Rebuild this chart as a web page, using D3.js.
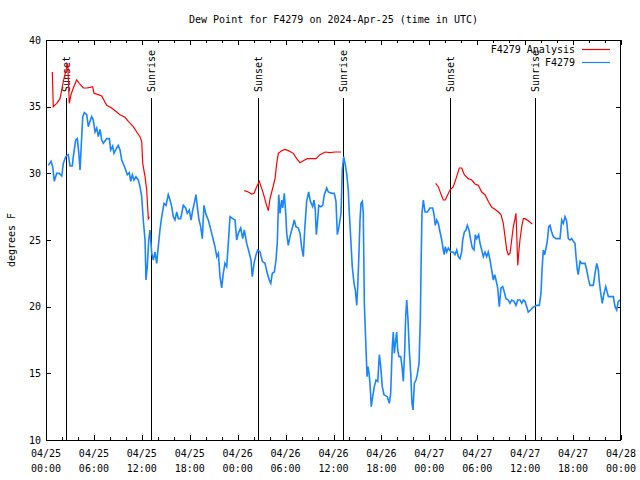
<!DOCTYPE html>
<html>
<head>
<meta charset="utf-8">
<script src="https://cdn.jsdelivr.net/npm/d3@7"></script>
<style>
  html, body { margin: 0; padding: 0; background: #fff; }
  svg { display: block; }
  text { font-family: "DejaVu Sans Mono", "Liberation Mono", monospace; font-size: 10px; fill: #000; }
</style>
</head>
<body>
<svg id="chart" width="640" height="480"></svg>
<script>
// ---------------- DATA ----------------
const chartTitle = "Dew Point for F4279 on 2024-Apr-25 (time in UTC)";
const yAxisTitle = "degrees F";
const seriesNames = ["F4279 Analysis", "F4279"];
const startTime = "2024-04-25T00:00:00Z";
const rangeHours = [0, 72];
const yDomain = [10, 40];
const yTickValues = [10, 15, 20, 25, 30, 35, 40];

// Station observations: [hours since 04/25 00:00 UTC, dew point °F]
const obsDew = [
  [0.29,30.6],[0.63,30.9],[0.84,30.5],[1.04,29.4],[1.34,30.0],[1.67,30.0],[1.97,29.8],[2.17,30.75],[2.47,31.25],[2.79,31.4],
  [3.01,30.55],[3.29,30.55],[3.42,31.25],[3.72,32.5],[3.92,32.6],[4.13,31.4],[4.26,30.25],[4.47,32.75],[4.60,34.25],[4.80,34.55],
  [5.10,34.4],[5.30,33.5],[5.51,33.9],[5.72,34.25],[5.92,34.0],[6.14,33.1],[6.35,33.4],[6.55,32.75],[6.76,33.3],[6.97,32.5],
  [7.18,32.25],[7.60,32.6],[7.93,32.6],[8.10,31.75],[8.35,32.05],[8.51,31.5],[8.85,31.9],[9.05,32.1],[9.27,31.75],[9.48,31.0],
  [9.89,30.4],[10.18,29.9],[10.43,30.05],[10.61,29.4],[10.81,29.9],[11.02,29.5],[11.27,29.75],[11.56,29.5],[11.77,29.0],[11.98,28.25],
  [12.18,26.5],[12.40,25.0],[12.52,22.0],[12.68,23.0],[12.86,25.0],[13.02,25.75],[13.24,24.0],[13.44,23.5],[13.65,24.1],[13.86,23.25],
  [14.06,24.5],[14.27,25.75],[14.49,26.75],[14.78,27.75],[15.03,27.6],[15.31,28.4],[15.53,28.0],[15.74,27.5],[15.94,26.75],[16.15,26.5],
  [16.37,27.1],[16.57,26.6],[16.87,26.6],[17.19,27.6],[17.49,27.4],[17.69,27.0],[17.94,27.25],[18.16,26.5],[18.37,27.25],[18.57,27.75],
  [18.78,28.4],[18.95,27.5],[19.16,26.5],[19.37,26.0],[19.57,25.1],[19.78,27.6],[20.04,26.9],[20.32,26.5],[20.54,26.0],[20.75,25.5],
  [20.95,25.0],[21.16,24.5],[21.38,23.75],[21.58,24.0],[21.79,22.25],[22.00,21.4],[22.20,22.5],[22.41,23.25],[22.63,23.0],[22.83,24.75],
  [23.04,26.75],[23.38,26.6],[23.67,26.5],[23.88,25.0],[24.08,25.5],[24.38,25.9],[24.63,25.1],[24.83,25.75],[25.13,24.75],[25.42,24.1],
  [25.67,23.5],[25.83,22.25],[26.05,23.25],[26.30,23.9],[26.51,24.25],[26.80,24.1],[27.09,23.4],[27.42,23.25],[27.71,22.5],[27.96,22.0],
  [28.14,21.75],[28.34,22.5],[28.59,22.6],[28.80,23.5],[28.96,24.75],[29.14,28.4],[29.30,27.0],[29.51,28.0],[29.64,27.4],[29.84,28.5],
  [30.02,27.0],[30.14,25.5],[30.34,24.6],[30.55,25.25],[30.84,25.9],[31.09,26.5],[31.30,26.0],[31.59,25.9],[31.81,25.5],[32.02,24.4],
  [32.22,23.75],[32.39,25.75],[32.64,27.9],[32.89,28.6],[33.10,27.9],[33.40,27.5],[33.56,28.0],[33.72,27.25],[33.85,25.4],[34.02,26.5],
  [34.15,27.6],[34.40,27.5],[34.65,27.6],[34.85,28.4],[35.15,28.9],[35.35,28.6],[35.77,28.5],[36.10,28.5],[36.31,27.9],[36.48,25.4],
  [36.69,26.0],[36.81,26.5],[36.94,27.0],[37.10,30.25],[37.28,31.25],[37.44,30.75],[37.65,30.0],[37.85,28.75],[37.98,27.0],[38.19,24.75],
  [38.35,23.0],[38.57,21.75],[38.73,21.25],[38.91,20.1],[39.03,21.5],[39.16,23.5],[39.32,26.5],[39.44,27.75],[39.61,27.9],[39.73,27.0],
  [39.86,20.25],[40.03,17.5],[40.20,14.75],[40.32,15.5],[40.45,15.0],[40.57,14.25],[40.73,12.5],[40.91,13.25],[41.11,14.0],[41.32,14.5],
  [41.54,14.4],[41.74,16.4],[41.91,15.5],[42.11,14.0],[42.32,13.4],[42.74,13.25],[42.99,12.75],[43.16,13.5],[43.36,17.0],[43.49,18.1],
  [43.61,16.5],[43.79,17.5],[43.91,18.1],[44.04,16.75],[44.20,16.25],[44.42,16.25],[44.58,15.5],[44.74,14.4],[44.92,16.75],[45.04,19.25],
  [45.17,20.5],[45.33,19.0],[45.49,16.75],[45.67,15.0],[45.83,12.75],[45.96,12.25],[46.12,14.25],[46.33,14.5],[46.49,14.9],[46.71,15.75],
  [46.87,19.0],[46.99,24.0],[47.08,27.0],[47.25,28.0],[47.46,27.1],[47.75,27.1],[48.08,27.4],[48.42,27.4],[48.59,26.9],[48.75,26.1],
  [48.92,26.5],[49.12,26.25],[49.34,25.6],[49.55,25.0],[49.75,24.25],[49.87,23.9],[50.00,24.5],[50.18,24.1],[50.38,24.4],[50.68,24.1],
  [51.00,24.1],[51.21,23.9],[51.43,24.25],[51.63,23.75],[51.84,23.6],[52.05,24.1],[52.18,25.0],[52.38,25.6],[52.59,25.75],[52.75,26.1],
  [52.97,25.75],[53.18,25.0],[53.38,24.4],[53.59,24.25],[53.76,25.4],[53.93,25.1],[54.18,25.4],[54.35,24.75],[54.56,24.25],[54.76,23.75],
  [54.97,24.1],[55.18,23.75],[55.38,24.1],[55.60,23.5],[55.81,22.75],[56.01,22.0],[56.19,22.4],[56.35,22.0],[56.56,21.4],[56.76,20.0],
  [56.97,21.4],[57.19,21.5],[57.39,21.1],[57.60,20.6],[57.89,20.5],[58.10,20.25],[58.31,20.5],[58.60,20.4],[58.85,20.1],[59.07,20.5],
  [59.35,20.5],[59.57,20.25],[59.77,20.5],[59.98,20.4],[60.19,20.0],[60.39,19.6],[60.69,19.75],[60.89,19.9],[61.11,20.0],[61.45,20.1],
  [61.77,20.1],[61.98,21.0],[62.11,22.75],[62.27,24.25],[62.45,23.9],[62.61,24.4],[62.77,24.9],[62.95,26.0],[63.11,26.1],[63.32,25.6],
  [63.52,25.25],[63.86,25.1],[64.14,25.1],[64.36,25.1],[64.58,26.5],[64.78,26.25],[64.99,26.75],[65.20,26.4],[65.40,25.1],[65.61,25.0],
  [65.83,25.1],[66.03,24.9],[66.24,24.75],[66.37,23.75],[66.53,22.75],[66.65,22.4],[66.87,23.4],[67.08,23.25],[67.49,23.25],[67.71,22.75],
  [67.91,22.1],[68.12,21.6],[68.53,21.6],[68.75,22.5],[68.96,23.25],[69.16,22.75],[69.28,21.9],[69.46,21.0],[69.66,20.25],[69.87,21.0],
  [70.09,21.5],[70.42,20.75],[71.04,20.75],[71.25,20.0],[71.46,19.75],[71.66,20.4],[71.88,20.5]
];

// Analysis: [hours, dew point °F]; null value = gap between analysis runs
const analysisDew = [
  [0.79,37.6],[0.91,35.0],[1.34,35.25],[1.75,35.6],[1.97,36.25],[2.17,36.9],[2.38,37.4],[2.72,38.25],[2.92,35.25],[3.13,35.9],
  [3.42,36.4],[3.84,37.0],[4.17,36.75],[4.67,36.4],[5.10,36.4],[5.51,36.45],[5.85,36.5],[6.01,36.0],[6.55,35.9],[6.97,35.8],
  [7.60,35.1],[8.23,34.9],[8.85,34.6],[9.27,34.4],[9.89,34.2],[10.31,33.9],[10.93,33.5],[11.36,33.1],[11.77,32.75],[11.98,32.4],
  [12.11,30.75],[12.40,29.75],[12.61,28.75],[12.68,28.0],[12.81,26.6],[12.94,26.75],
  [18.0,null],
  [24.83,28.7],[25.33,28.6],[25.76,28.45],[26.05,28.5],[26.38,29.0],[26.71,29.4],[27.21,28.5],[27.55,27.75],[27.84,27.2],[28.05,28.1],
  [28.39,28.9],[28.68,29.6],[28.89,30.75],[29.09,31.5],[29.51,31.7],[29.93,31.8],[30.34,31.7],[30.97,31.5],[31.39,31.1],[31.81,30.8],
  [32.22,30.95],[32.72,31.1],[33.27,31.1],[33.81,31.1],[34.31,31.4],[34.94,31.6],[35.56,31.55],[36.19,31.6],[36.94,31.6],
  [42.0,null],
  [48.80,29.25],[49.12,29.0],[49.42,28.5],[49.75,28.0],[50.00,28.0],[50.30,28.4],[50.59,28.75],[51.00,29.0],[51.34,29.6],[51.75,30.4],
  [52.05,30.4],[52.38,29.9],[52.88,29.6],[53.31,29.5],[53.72,29.2],[54.13,29.1],[54.56,28.6],[54.97,28.4],[55.38,27.9],[55.81,27.45],
  [56.22,27.3],[56.64,27.1],[56.97,26.9],[57.26,26.25],[57.48,25.25],[57.69,24.25],[57.89,23.9],[58.10,24.0],[58.31,25.0],[58.52,26.0],
  [58.73,26.6],[58.85,27.0],[58.94,25.5],[59.07,23.1],[59.19,24.0],[59.35,25.0],[59.57,26.0],[59.77,26.6],[59.98,26.6],[60.39,26.45],
  [60.89,26.2]
];

// Sun events (UTC)
const sunEventTimes = ["2024-04-25T02:30:00Z","2024-04-25T13:09:00Z","2024-04-26T02:33:00Z","2024-04-26T13:13:00Z","2024-04-27T02:37:00Z","2024-04-27T13:11:00Z"];
const sunEventLabels = ["Sunset","Sunrise","Sunset","Sunrise","Sunset","Sunrise"];
const sunLineTop = 35.65;   // value where marker lines begin
const sunLabelStart = 36.1; // value where rotated labels start

const colors = { analysis: "#ff0000", obs: "#1a85ff" };

// ---------------- CHART ----------------
const svg = d3.select("#chart");
const margin = { left: 46, right: 19, top: 40, bottom: 40 };
const W = 640, H = 480;
const x0 = margin.left, x1 = W - margin.right, y0 = margin.top, y1 = H - margin.bottom;

const t0 = new Date(startTime);
const hToDate = h => new Date(t0.getTime() + h * 3600e3);

const x = d3.scaleUtc().domain(rangeHours.map(hToDate)).range([x0, x1]);
const y = d3.scaleLinear().domain(yDomain).range([y1, y0]);

// Title
svg.append("text").attr("x", (x0 + x1) / 2).attr("y", 23)
  .attr("text-anchor", "middle").text(chartTitle);

// Y axis title
svg.append("text").attr("transform", `translate(15,${(y0 + y1) / 2}) rotate(-90)`)
  .attr("text-anchor", "middle").text(yAxisTitle);

// Axes (ticks inside, mirrored)
const minorTicks = d3.utcHour.every(2).range(x.domain()[0], new Date(x.domain()[1].getTime() + 1));
const majorTicks = d3.utcHour.every(6).range(x.domain()[0], new Date(x.domain()[1].getTime() + 1));
const fmtDate = d3.utcFormat("%m/%d"), fmtTime = d3.utcFormat("%H:%M");

const axG = svg.append("g").attr("shape-rendering", "crispEdges").attr("stroke", "#000").attr("stroke-width", 1);

const xBottomMinor = d3.axisBottom(x).tickValues(minorTicks).tickSize(-3).tickFormat("");
const xBottomMajor = d3.axisBottom(x).tickValues(majorTicks).tickSize(-5).tickFormat("");
const xTopMinor = d3.axisTop(x).tickValues(minorTicks).tickSize(-3).tickFormat("");
const xTopMajor = d3.axisTop(x).tickValues(majorTicks).tickSize(-5).tickFormat("");
const yLeft = d3.axisLeft(y).tickValues(yTickValues).tickSize(-5).tickFormat("");
const yRight = d3.axisRight(y).tickValues(yTickValues).tickSize(-5).tickFormat("");

[
  [xBottomMinor, `translate(0,${y1})`], [xBottomMajor, `translate(0,${y1})`],
  [xTopMinor, `translate(0,${y0})`], [xTopMajor, `translate(0,${y0})`],
  [yLeft, `translate(${x0},0)`], [yRight, `translate(${x1},0)`]
].forEach(([ax, tr]) => {
  const g = svg.append("g").attr("transform", tr).attr("shape-rendering", "crispEdges").call(ax);
  g.select(".domain").remove();
  g.selectAll("line").attr("stroke", "#000");
});

// X tick labels (two lines)
const xLab = svg.append("g");
majorTicks.forEach(t => {
  const tx = xLab.append("text").attr("x", x(t)).attr("text-anchor", "middle");
  tx.append("tspan").attr("x", x(t)).attr("y", 457).text(fmtDate(t));
  tx.append("tspan").attr("x", x(t)).attr("y", 472).text(fmtTime(t));
});

// Y tick labels
svg.append("g").selectAll("text").data(yTickValues).join("text")
  .attr("x", x0 - 5).attr("y", d => y(d)).attr("dy", "0.35em")
  .attr("text-anchor", "end").text(d => d);

// Clip for data
svg.append("clipPath").attr("id", "plotclip").append("rect")
  .attr("x", x0).attr("y", y0).attr("width", x1 - x0).attr("height", y1 - y0);

// Sun events
const sunG = svg.append("g");
sunEventTimes.forEach((s, i) => {
  const tx = x(new Date(s));
  sunG.append("line").attr("x1", Math.round(tx) + 0.5).attr("x2", Math.round(tx) + 0.5)
    .attr("y1", y(sunLineTop)).attr("y2", y1).attr("stroke", "#000").attr("stroke-width", 1)
    .attr("shape-rendering", "crispEdges");
  sunG.append("text")
    .attr("transform", `translate(${tx + 4},${y(sunLabelStart)}) rotate(-90)`)
    .attr("text-anchor", "start").text(sunEventLabels[i]);
});

// Lines
const lineGen = d3.line()
  .defined(d => d[1] !== null)
  .x(d => x(hToDate(d[0])))
  .y(d => y(d[1]));

const dataG = svg.append("g").attr("clip-path", "url(#plotclip)");
dataG.append("path").datum(analysisDew).attr("d", lineGen)
  .attr("fill", "none").attr("stroke", colors.analysis).attr("stroke-width", 1.2);
dataG.append("path").datum(obsDew).attr("d", lineGen)
  .attr("fill", "none").attr("stroke", colors.obs).attr("stroke-width", 1.6);

// Border
svg.append("rect").attr("x", x0 + 0.5).attr("y", y0 + 0.5).attr("width", x1 - x0 - 1).attr("height", y1 - y0)
  .attr("fill", "none").attr("stroke", "#000").attr("stroke-width", 1).attr("shape-rendering", "crispEdges");

// Legend
const legY = [49, 62];
const legColors = [colors.analysis, colors.obs];
seriesNames.forEach((n, i) => {
  svg.append("text").attr("x", 575).attr("y", legY[i]).attr("dy", "0.35em")
    .attr("text-anchor", "end").text(n);
  svg.append("line").attr("x1", 582).attr("x2", 610).attr("y1", legY[i] + 0.5).attr("y2", legY[i] + 0.5)
    .attr("stroke", legColors[i]).attr("stroke-width", 1.2);
});
</script>
</body>
</html>
